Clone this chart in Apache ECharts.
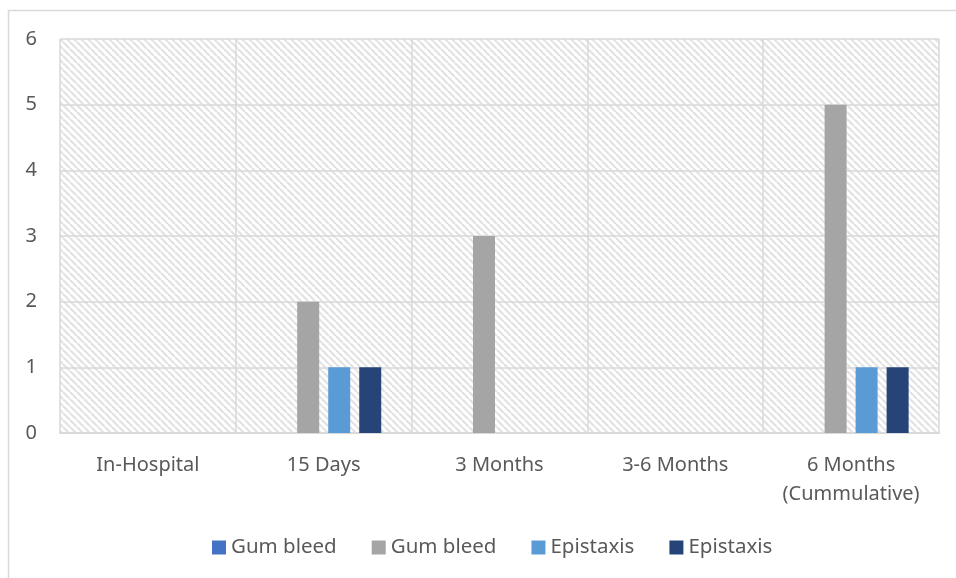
<!DOCTYPE html>
<html>
<head>
<meta charset="utf-8">
<script src="https://cdn.jsdelivr.net/npm/echarts@6/dist/echarts.min.js"></script>
<style>
  html, body { margin: 0; padding: 0; background: #ffffff; }
  #chart { width: 956px; height: 578px; }
</style>
</head>
<body>
<div id="chart"></div>
<script>
// Follow-up time points
const categories = ['In-Hospital', '15 Days', '3 Months', '3-6 Months', '6 Months\n(Cummulative)'];

// Event counts per time point
const gumBleedA = [0, 0, 0, 0, 0];
const gumBleedB = [0, 2, 3, 0, 5];
const epistaxisA = [0, 1, 0, 0, 1];
const epistaxisB = [0, 1, 0, 0, 1];

const yTicks = [0, 1, 2, 3, 4, 5, 6];

// Diagonal hatch tile for the plot background
function hatchTile() {
  const s = 7;
  const c = document.createElement('canvas');
  c.width = s; c.height = s;
  const g = c.getContext('2d');
  g.fillStyle = '#ffffff';
  g.fillRect(0, 0, s, s);
  g.strokeStyle = '#e2e2e2';
  g.lineWidth = 2.2;
  for (let k = -1; k <= 1; k++) {
    g.beginPath();
    g.moveTo(k * s, 0);
    g.lineTo(k * s + s, s);
    g.stroke();
  }
  return c;
}

const chart = echarts.init(document.getElementById('chart'), null, { renderer: 'canvas' });

const font = '"Noto Sans", "Open Sans", sans-serif';
const textColor = '#595959';
const gridColor = '#d9d9d9';

// Series share display names, so the second of each pair carries a trailing space
function bar(name, data, color) {
  return {
    name: name,
    type: 'bar',
    data: data,
    barWidth: 22,
    barGap: '41%',
    itemStyle: { color: color },
    emphasis: { disabled: true }
  };
}

chart.setOption({
  animation: false,
  backgroundColor: '#ffffff',
  textStyle: { fontFamily: font },
  graphic: [{
    type: 'rect',
    shape: { x: 8.5, y: 10.5, width: 960, height: 600 },
    style: { fill: 'none', stroke: '#d9d9d9', lineWidth: 1.5 },
    silent: true
  }],
  grid: {
    left: 60, right: 17, top: 39, bottom: 145,
    show: true,
    borderWidth: 0,
    backgroundColor: { image: hatchTile(), repeat: 'repeat' }
  },
  legend: {
    top: 537,
    left: 212,
    padding: 0,
    itemWidth: 14,
    itemHeight: 14,
    itemGap: 35,
    icon: 'rect',
    selectedMode: false,
    formatter: function (name) { return name.trim(); },
    textStyle: { color: textColor, fontSize: 20.5, fontFamily: font },
    data: ['Gum bleed', 'Gum bleed ', 'Epistaxis', 'Epistaxis ']
  },
  xAxis: {
    type: 'category',
    data: categories,
    boundaryGap: true,
    axisLine: { show: true, lineStyle: { color: gridColor, width: 2 } },
    axisTick: { show: false },
    splitLine: { show: true, interval: 0, lineStyle: { color: gridColor, width: 1.5 } },
    axisLabel: { color: textColor, fontSize: 20, margin: 18, interval: 0, lineHeight: 29, fontFamily: font }
  },
  yAxis: {
    type: 'value',
    min: yTicks[0],
    max: yTicks[yTicks.length - 1],
    interval: 1,
    axisLine: { show: false },
    axisTick: { show: false },
    splitLine: { show: true, lineStyle: { color: gridColor, width: 1.5 } },
    axisLabel: { color: textColor, fontSize: 20, margin: 23, fontFamily: font }
  },
  series: [
    bar('Gum bleed', gumBleedA, '#4472C4'),
    bar('Gum bleed ', gumBleedB, '#A5A5A5'),
    bar('Epistaxis', epistaxisA, '#5B9BD5'),
    bar('Epistaxis ', epistaxisB, '#264478')
  ]
});
</script>
</body>
</html>
